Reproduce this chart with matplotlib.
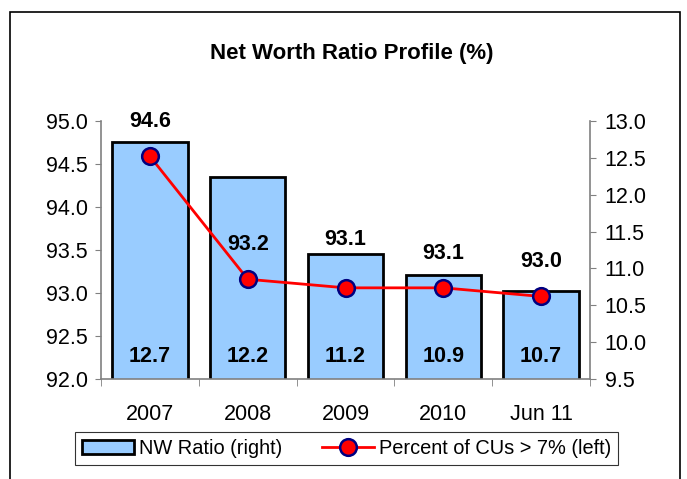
import matplotlib
matplotlib.use("Agg")
import matplotlib.pyplot as plt
from matplotlib.patches import Rectangle

plt.rcParams['font.family'] = ['Liberation Sans', 'DejaVu Sans']

categories = ["2007", "2008", "2009", "2010", "Jun 11"]
nw_ratio = [12.71, 12.24, 11.19, 10.91, 10.69]
pct_cus = [94.59, 93.16, 93.06, 93.06, 92.96]

# label offsets above line points (points); 2009 was nudged up in the original
line_label_offsets = [25, 25, 35, 25, 25]

fig = plt.figure(figsize=(6.87, 4.79), dpi=100)
ax = fig.add_axes([101/687, 1-379/479, 489/687, 258/479])
ax2 = ax.twinx()

x = list(range(len(categories)))

# bars on the right axis
ax2.bar(x, nw_ratio, width=0.77, bottom=0, color='#99CCFF', edgecolor='black',
        linewidth=2, zorder=2, label='NW Ratio (right)')
ax2.set_ylim(9.5, 13.0)
ax2.set_yticks([9.5, 10.0, 10.5, 11.0, 11.5, 12.0, 12.5, 13.0])
ax2.set_yticklabels(["%.1f" % v for v in ax2.get_yticks()])

# line on the left axis, drawn above bars
ax.set_zorder(ax2.get_zorder() + 1)
ax.patch.set_visible(False)
ax.plot(x, pct_cus, color='red', linewidth=2, marker='o', markersize=12,
        markerfacecolor='red', markeredgecolor='#000080', markeredgewidth=1.8,
        label='Percent of CUs > 7% (left)', zorder=3)
ax.set_ylim(92.0, 95.0)
ax.set_yticks([92.0, 92.5, 93.0, 93.5, 94.0, 94.5, 95.0])
ax.set_yticklabels(["%.1f" % v for v in ax.get_yticks()])
ax.set_xlim(-0.5, len(categories) - 0.5)

# x ticks: labels at centres, tick marks between categories
ax.set_xticks(x)
ax.set_xticklabels(categories)
ax.set_xticks([i - 0.5 for i in range(len(categories) + 1)], minor=True)
ax.tick_params(axis='x', which='major', length=0, pad=18, labelsize=15.5)
ax.tick_params(axis='x', which='minor', length=5, direction='out', color='#808080')
ax.tick_params(axis='y', length=4.5, pad=5, labelsize=15.5, color='#808080')
ax2.tick_params(axis='y', length=4.5, pad=6, labelsize=15.5, color='#808080')

for a in (ax, ax2):
    a.spines['top'].set_visible(False)
    for s in ('left', 'right', 'bottom'):
        a.spines[s].set_color('#808080')
        a.spines[s].set_linewidth(1.2)
ax.spines['right'].set_visible(False)
ax2.spines['left'].set_visible(False)
ax2.spines['bottom'].set_visible(False)

for i, v in enumerate(nw_ratio):
    ax2.annotate("%.1f" % v, xy=(i, 9.5), xytext=(0, 16), textcoords='offset points',
                 ha='center', va='center', fontsize=15.5, fontweight='bold')
for i, v in enumerate(pct_cus):
    ax.annotate("%.1f" % v, xy=(i, v), xytext=(0, line_label_offsets[i]),
                textcoords='offset points', ha='center', va='center',
                fontsize=15.5, fontweight='bold')

fig.text(352/687, 1-53/479, "Net Worth Ratio Profile (%)", ha='center', va='center',
         fontsize=16, fontweight='bold')

h1, l1 = ax2.get_legend_handles_labels()
h2, l2 = ax.get_legend_handles_labels()
leg = fig.legend(h1 + h2, l1 + l2, loc='center', ncol=2,
                 bbox_to_anchor=(346.5/687, 1-448/479), fontsize=14.4,
                 frameon=True, fancybox=False, edgecolor='black',
                 handlelength=2.6, handletextpad=0.25, columnspacing=2.0,
                 borderpad=0.35)
leg.get_frame().set_linewidth(0.8)

fig.patches.append(Rectangle((10/687, -0.05), 670/687, 1.05 - 12/479,
                             transform=fig.transFigure, fill=False,
                             edgecolor='black', linewidth=1.2))

fig.savefig("out.png", dpi=100)
